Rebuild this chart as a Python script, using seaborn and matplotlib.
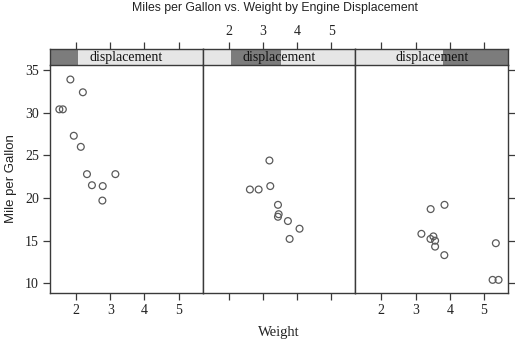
import matplotlib
matplotlib.use("Agg")
import matplotlib.pyplot as plt
import seaborn as sns
import pandas as pd

# Car weight (1000 lbs) and fuel economy, grouped into three displacement ranges
wt_low = [1.835, 1.615, 2.200, 1.935, 1.513, 2.320, 2.465, 2.140, 2.780, 3.150, 2.770]
mpg_low = [33.9, 30.4, 32.4, 27.3, 30.4, 22.8, 21.5, 26.0, 21.4, 22.8, 19.7]

wt_mid = [3.190, 2.620, 2.875, 3.440, 3.440, 3.460, 3.215, 4.070, 3.730, 3.780]
mpg_mid = [24.4, 21.0, 21.0, 19.2, 17.8, 18.1, 21.4, 16.4, 17.3, 15.2]

wt_high = [3.570, 3.435, 3.520, 3.840, 3.170, 3.440, 3.570, 3.845, 5.345, 5.424, 5.250]
mpg_high = [15.0, 15.2, 15.5, 13.3, 15.8, 18.7, 14.3, 19.2, 14.7, 10.4, 10.4]

# Displacement interval covered by each panel (cu. in.)
disp_ranges = [(71.1, 145.0), (146.7, 277.0), (301.0, 472.0)]
disp_limits = (71.1, 472.0)

x_ticks = [2, 3, 4, 5]
y_ticks = [10, 15, 20, 25, 30, 35]

frames = [
    pd.DataFrame({"wt": wt_low, "mpg": mpg_low}),
    pd.DataFrame({"wt": wt_mid, "mpg": mpg_mid}),
    pd.DataFrame({"wt": wt_high, "mpg": mpg_high}),
]

sns.set_style("white")
serif = ["Liberation Serif", "DejaVu Serif"]
sans = ["Liberation Sans", "DejaVu Sans"]

W, H = 515, 340
fig = plt.figure(figsize=(W / 100, H / 100), dpi=100)

border = "#3a3a3a"
dark = "#7c7c7c"
light = "#e6e6e6"

left_px, right_px = 50, 508
panel_top_px, panel_bot_px = 65, 293
strip_top_px = 49
pw = (right_px - left_px) / 3

xlim = (1.24, 5.70)
ylim = (8.86, 35.6)

for i, df in enumerate(frames):
    x0 = left_px + i * pw
    ax = fig.add_axes([x0 / W, (H - panel_bot_px) / H, pw / W,
                       (panel_bot_px - panel_top_px) / H])
    sns.scatterplot(data=df, x="wt", y="mpg", ax=ax, marker="o", s=24,
                    facecolors="none", edgecolor="#5a5a5a", linewidth=0.9,
                    legend=False)
    ax.set_xlim(*xlim)
    ax.set_ylim(*ylim)
    ax.set_xlabel("")
    ax.set_ylabel("")
    for sp in ax.spines.values():
        sp.set_color(border)
        sp.set_linewidth(1.0)
    ax.spines["top"].set_visible(False)
    ax.set_xticks(x_ticks)
    ax.set_yticks(y_ticks)
    ax.tick_params(axis="both", direction="out", length=5, width=0.9,
                   color=border, labelsize=10, labelcolor="#222222", pad=3)
    ax.tick_params(bottom=True, left=(i == 0), right=(i == 2),
                   labelleft=(i == 0), labelbottom=(i != 1))
    for lab in ax.get_xticklabels() + ax.get_yticklabels():
        lab.set_family(serif)
    if i == 0:
        ax.set_ylabel("Mile per Gallon", fontsize=9.5, family=sans,
                      color="#222222", labelpad=6)
    if i == 1:
        ax.set_xlabel("Weight", fontsize=10.5, family=serif,
                      color="#222222", labelpad=19)

    # strip showing the displacement interval
    sx = fig.add_axes([x0 / W, (H - panel_top_px) / H, pw / W,
                       (panel_top_px - strip_top_px) / H])
    sx.set_facecolor(light)
    sx.set_xlim(*disp_limits)
    sx.set_ylim(0, 1)
    sx.axvspan(*disp_ranges[i], color=dark, lw=0)
    sx.text(0.5, 0.5, "displacement", transform=sx.transAxes, ha="center",
            va="center", fontsize=10, family=serif, color="#111111")
    sx.set_xticks([])
    sx.set_yticks([])
    for sp in sx.spines.values():
        sp.set_color(border)
        sp.set_linewidth(1.0)

    # weight ticks along the top edge
    tx = sx.twiny()
    tx.set_xlim(*xlim)
    tx.set_xticks(x_ticks)
    tx.set_yticks([])
    tx.tick_params(axis="x", direction="out", length=5, width=0.9,
                   color=border, labelsize=10, labelcolor="#222222", pad=3,
                   labeltop=(i == 1))
    for lab in tx.get_xticklabels():
        lab.set_family(serif)
    for sp in tx.spines.values():
        sp.set_visible(False)

fig.text(275 / W, 1 - 8 / H,
         "Miles per Gallon vs. Weight by Engine Displacement",
         ha="center", va="center", fontsize=8.8, family=sans,
         color="#222222")

fig.savefig("out.png", dpi=100)
